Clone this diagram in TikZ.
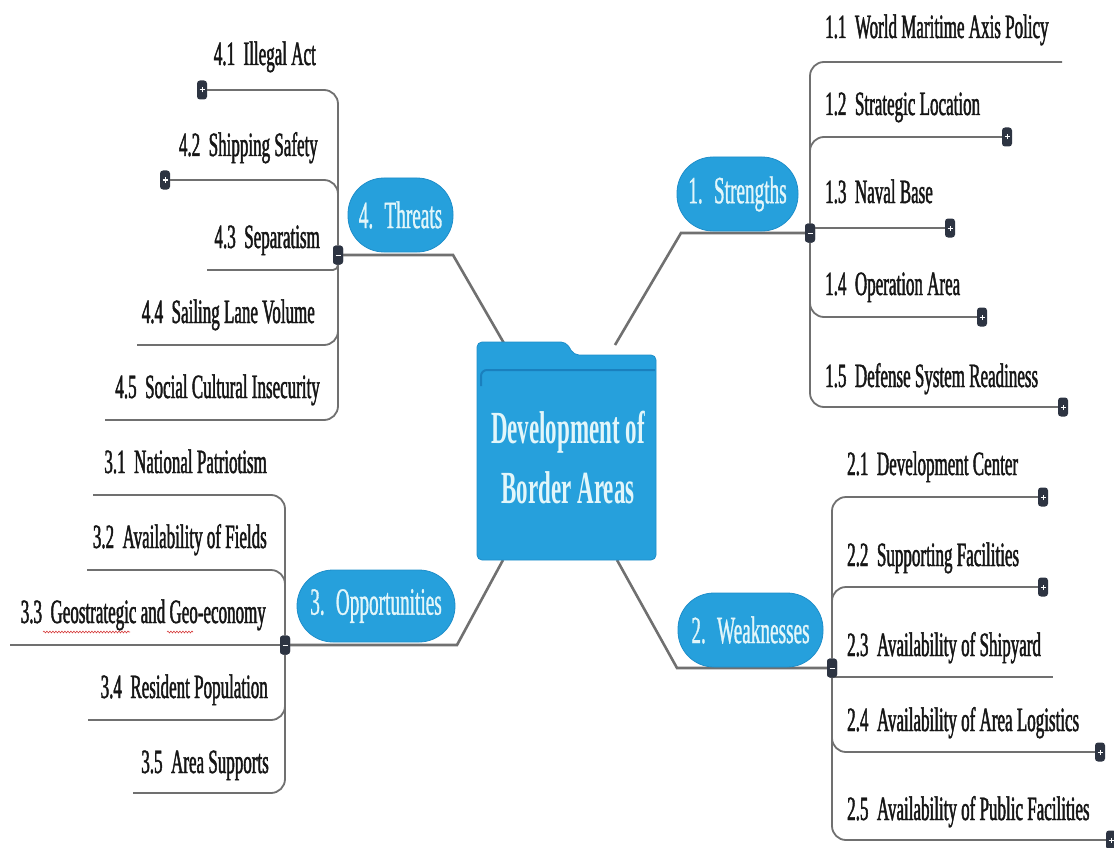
\documentclass[tikz,border=0pt]{standalone}
\usepackage{fontspec}
\setmainfont[FakeStretch=0.5]{Liberation Serif}
\newfontfamily\leaffont[FakeStretch=0.5,FakeBold=1.3]{Liberation Serif}
\newfontfamily\pillfont[FakeStretch=0.5,FakeBold=0.8]{Liberation Serif}
\usetikzlibrary{decorations.pathmorphing}
\definecolor{nodeblue}{RGB}{38,160,220}
\definecolor{nodeedge}{RGB}{30,142,202}
\definecolor{folderline}{RGB}{26,128,190}
\definecolor{linegray}{RGB}{112,112,112}
\definecolor{markdark}{RGB}{45,52,66}
\definecolor{pilltext}{RGB}{226,246,250}
\definecolor{leaftext}{RGB}{22,22,22}
\definecolor{squig}{RGB}{215,60,60}
\tikzset{
  pill/.style={fill=nodeblue, draw=nodeedge, line width=0.8pt, rounded corners=36pt,
    inner sep=0pt, text=pilltext, font=\pillfont\fontsize{38.5}{40}\selectfont},
  leaf/.style={inner sep=0pt, text=leaftext, font=\leaffont\fontsize{34}{36}\selectfont},
  titletext/.style={inner sep=0pt, align=center, text=pilltext,
    font=\bfseries\fontsize{46}{60}\selectfont},
  branch/.style={draw=linegray, line width=1.8pt, rounded corners=14pt},
  trunk/.style={draw=linegray, line width=2.6pt},
  markbox/.style={fill=markdark, rounded corners=3pt, minimum width=10pt,
    minimum height=19pt, inner sep=0pt},
  plusmark/.style={markbox, path picture={
    \draw[white,line width=1pt] ([xshift=-2.5pt]path picture bounding box.center) -- ([xshift=2.5pt]path picture bounding box.center);
    \draw[white,line width=1pt] ([yshift=-2.5pt]path picture bounding box.center) -- ([yshift=2.5pt]path picture bounding box.center);}},
  minusmark/.style={markbox, path picture={
    \draw[white,line width=1pt] ([xshift=-2.5pt]path picture bounding box.center) -- ([xshift=2.5pt]path picture bounding box.center);}},
  squiggle/.style={draw=squig, line width=0.6pt, decorate,
    decoration={snake, amplitude=0.9pt, segment length=3pt}}
}
\begin{document}
\begin{tikzpicture}[x=1pt,y=-1pt]
\useasboundingbox[fill=white] (0,0) rectangle (1114,848);

% ---------- junction markers and leaf markers (positions) ----------
\path
  (810,233) node[minusmark] (mS) {}
  (832,668) node[minusmark] (mW) {}
  (338,255) node[minusmark] (mT) {}
  (285,645) node[minusmark] (mO) {};
\path
  (1007,137) node[plusmark] (p12) {}
  (950,228)  node[plusmark] (p13) {}
  (982,317)  node[plusmark] (p14) {}
  (1063,407) node[plusmark] (p15) {}
  (1043,497) node[plusmark] (p21) {}
  (1043,587) node[plusmark] (p22) {}
  (1100,752) node[plusmark] (p24) {}
  (1111,840) node[plusmark] (p25) {}
  (202,90)   node[plusmark] (p41) {}
  (165,180)  node[plusmark] (p42) {};
\coordinate (e11) at (1062,62);
\coordinate (e23) at (1053,677);
\coordinate (e43) at (207,270);
\coordinate (e44) at (137,345);
\coordinate (e45) at (105,420);
\coordinate (e31) at (93,495);
\coordinate (e32) at (87,570);
\coordinate (e33) at (10,645);
\coordinate (e34) at (88,720);
\coordinate (e35) at (133,793);

% ---------- branch lines ----------
\draw[branch] (mS) |- (e11);
\draw[branch] (mS) |- (p12);
\draw[branch, sharp corners] (mS) |- (p13);
\draw[branch] (mS) |- (p14);
\draw[branch] (mS) |- (p15);

\draw[branch] (mW) |- (p21);
\draw[branch] (mW) |- (p22);
\draw[branch, sharp corners] (mW) |- (e23);
\draw[branch] (mW) |- (p24);
\draw[branch] (mW) |- (p25);

\draw[branch] (mT) |- (p41);
\draw[branch] (mT) |- (p42);
\draw[branch, rounded corners=5pt] (mT) |- (e43);
\draw[branch] (mT) |- (e44);
\draw[branch] (mT) |- (e45);

\draw[branch] (mO) |- (e31);
\draw[branch] (mO) |- (e32);
\draw[branch] (mO) -- (e33);
\draw[branch] (mO) |- (e34);
\draw[branch] (mO) |- (e35);

% ---------- trunk connectors ----------
\coordinate (cS) at (615,345);  \coordinate (kS) at (681,233);
\coordinate (cT) at (505,345);  \coordinate (kT) at (453,255);
\coordinate (cO) at (503,560);  \coordinate (kO) at (457,645);
\coordinate (cW) at (617,560);  \coordinate (kW) at (677,668);
\draw[trunk] (cS) -- (kS) -- (mS);
\draw[trunk] (cT) -- (kT) -- (mT);
\draw[trunk] (cO) -- (kO) -- (mO);
\draw[trunk] (cW) -- (kW) -- (mW);

% ---------- central folder ----------
\draw[fill=nodeblue, draw=nodeedge, line width=0.8pt, rounded corners=5pt]
  (477,560) -- (477,342) -- (566,342) -- (574,355) -- (656,355) -- (656,560) -- cycle;
\draw[folderline, line width=2pt, rounded corners=6pt] (481,386) -- (481,370) -- (655,370);
\node[titletext] (root) at (568,458) {Development of\\Border Areas};

% ---------- pills ----------
\node[pill, minimum width=121pt, minimum height=74pt] (S) at (737.5,194) {1.~ Strengths};
\node[pill, minimum width=145pt, minimum height=74pt] (W) at (750.5,630) {2.~ Weaknesses};
\node[pill, minimum width=105pt, minimum height=74pt] (T) at (400.5,215) {4.~ Threats};
\node[pill, minimum width=158pt, minimum height=72pt] (O) at (376,606) {3.~ Opportunities};

% redraw junction markers on top of the trunk lines
\path
  (810,233) node[minusmark] {}
  (832,668) node[minusmark] {}
  (338,255) node[minusmark] {}
  (285,645) node[minusmark] {};

% ---------- leaf texts ----------
\node[leaf, anchor=base west] (t11) at (825,38)  {1.1~ World Maritime Axis Policy};
\node[leaf, anchor=base west] (t12) at (825,115) {1.2~ Strategic Location};
\node[leaf, anchor=base west] (t13) at (825,203) {1.3~ Naval Base};
\node[leaf, anchor=base west] (t14) at (825,295) {1.4~ Operation Area};
\node[leaf, anchor=base west] (t15) at (825,387) {1.5~ Defense System Readiness};

\node[leaf, anchor=base west] (t21) at (847,475) {2.1~ Development Center};
\node[leaf, anchor=base west] (t22) at (847,566) {2.2~ Supporting Facilities};
\node[leaf, anchor=base west] (t23) at (847,656) {2.3~ Availability of Shipyard};
\node[leaf, anchor=base west] (t24) at (847,731) {2.4~ Availability of Area Logistics};
\node[leaf, anchor=base west] (t25) at (847,820) {2.5~ Availability of Public Facilities};

\node[leaf, anchor=base east] (t41) at (316,65)  {4.1~ Illegal Act};
\node[leaf, anchor=base east] (t42) at (318,156) {4.2~ Shipping Safety};
\node[leaf, anchor=base east] (t43) at (320,248) {4.3~ Separatism};
\node[leaf, anchor=base east] (t44) at (315,323) {4.4~ Sailing Lane Volume};
\node[leaf, anchor=base east] (t45) at (320,398) {4.5~ Social Cultural Insecurity};

\node[leaf, anchor=base east] (t31) at (267,473) {3.1~ National Patriotism};
\node[leaf, anchor=base east] (t32) at (267,548) {3.2~ Availability of Fields};
\node[leaf, anchor=base east] (t33) at (266,623) {3.3~ Geostrategic and Geo-economy};
\node[leaf, anchor=base east] (t34) at (268,698) {3.4~ Resident Population};
\node[leaf, anchor=base east] (t35) at (269,773) {3.5~ Area Supports};

% spell-check squiggles
\draw[squiggle] (43,632) -- (130,632);
\draw[squiggle] (167,632) -- (193,632);
\end{tikzpicture}
\end{document}
